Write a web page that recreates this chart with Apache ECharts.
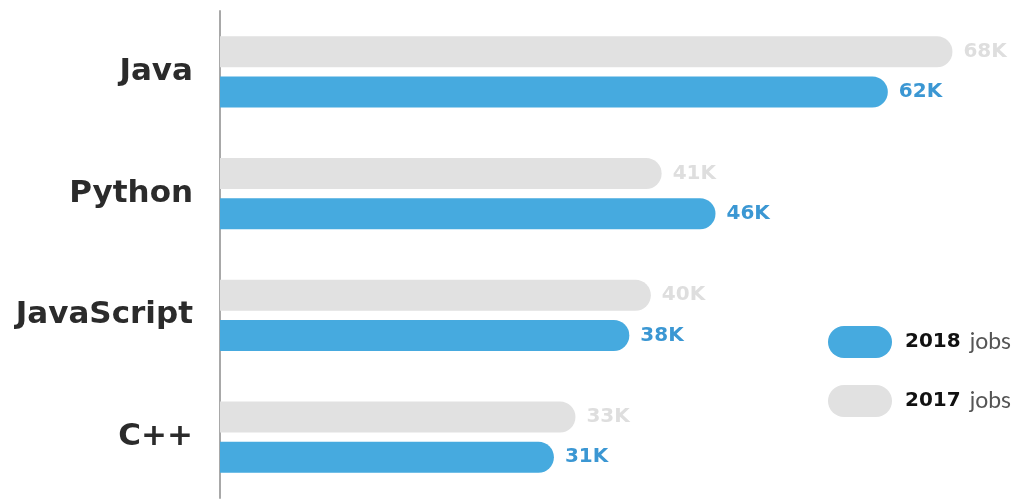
<!DOCTYPE html>
<html><head><meta charset="utf-8">
<script src="https://cdn.jsdelivr.net/npm/echarts@6/dist/echarts.min.js"></script>
<style>html,body{margin:0;padding:0;background:#fff}#c{width:1024px;height:500px}</style>
</head><body><div id="c"></div>
<script>
const categories = ['Java', 'Python', 'JavaScript', 'C++'];
const jobs2017 = [68, 41, 40, 33];
const jobs2018 = [62, 46, 38, 31];
const seriesNames = ['2017', '2018'];

const chart = echarts.init(document.getElementById('c'));
const pill = 'path://M16,0 H48 A16,16 0 0 1 48,32 H16 A16,16 0 0 1 16,0 Z';
chart.setOption({
  animation: false,
  backgroundColor: '#ffffff',
  grid: { left: 220, right: 50, top: 11, bottom: 2, containLabel: false },
  xAxis: { type: 'value', min: 0, max: 70, show: false, splitLine: { show: false } },
  yAxis: {
    type: 'category', data: categories, inverse: true,
    axisLine: { show: true, lineStyle: { color: '#a8a8a8', width: 2 } },
    axisTick: { show: false },
    axisLabel: { margin: 27, color: '#2b2b2b', fontSize: 31, fontWeight: 'bold', fontFamily: 'DejaVu Sans' }
  },
  legend: {
    orient: 'vertical', left: 828, top: 326, padding: 0, itemWidth: 64, itemHeight: 32, itemGap: 27,
    icon: pill, data: ['2018', '2017'],
    formatter: n => '{b|' + n + '}{r|jobs}',
    textStyle: {
      padding: [0, 0, 0, 8],
      rich: {
        b: { fontSize: 20, fontWeight: 'bold', color: '#111', fontFamily: 'DejaVu Sans' },
        r: { fontSize: 23, color: '#555', fontFamily: 'Lato', padding: [0, 0, 0, 9] }
      }
    }
  },
  series: [
    {
      name: seriesNames[0], type: 'bar', data: jobs2017, barWidth: 31, barGap: '30%',
      itemStyle: { color: '#e1e1e1', borderRadius: [0, 16, 16, 0] },
      label: { show: true, position: 'right', distance: 11, formatter: p => p.value + 'K',
        color: '#dedede', fontSize: 20, fontWeight: 'bold', fontFamily: 'DejaVu Sans' }
    },
    {
      name: seriesNames[1], type: 'bar', data: jobs2018, barWidth: 31,
      itemStyle: { color: '#46aadf', borderRadius: [0, 16, 16, 0] },
      label: { show: true, position: 'right', distance: 11, formatter: p => p.value + 'K',
        color: '#3b97d3', fontSize: 20, fontWeight: 'bold', fontFamily: 'DejaVu Sans' }
    }
  ]
});
</script></body></html>
